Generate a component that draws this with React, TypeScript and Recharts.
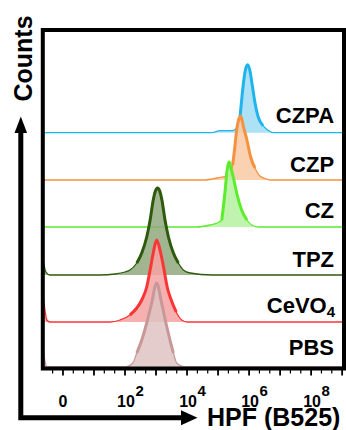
import React from 'react';
import { ComposedChart, Area, Line, XAxis, YAxis, ReferenceArea, ReferenceDot, Customized } from 'recharts';

const X_DOMAIN: [number, number] = [-0.65, 9.06];
const Y_DOMAIN: [number, number] = [0, 338.5];

const seriesNames = ['CZPA', 'CZP', 'CZ', 'TPZ', 'CeVO4', 'PBS'];
const baselineOffsets = [235.8, 188.5, 141.5, 93.5, 46.5, 1.5];
const labelLevels = [245.8, 196.8, 151, 101.8, 55.2, 13.5];
const strokeColors = ['#1fb5ec', '#f5913f', '#5cec2e', '#2d5a0c', '#fb3535', '#c89898'];
const fillColors = ['#9fdcf5', '#f9c9a3', '#b5f1a0', '#8fa87c', '#f6a2a2', '#dfc3c3'];

// [log-decade position, counts height]
const czpaCounts: [number, number][] = [
  [-0.65, 0], [4.81, 0], [5.06, 2], [5.48, 2], [5.6, 5], [5.71, 16], [5.82, 50], [5.89, 64],
  [5.96, 68], [6.02, 63], [6.09, 50], [6.19, 30], [6.29, 16], [6.45, 7], [6.61, 2.5], [6.77, 0], [9.06, 0],
];
const czpCounts: [number, number][] = [
  [-0.65, 0], [4.52, 0], [4.97, 2], [5.39, 5], [5.47, 15], [5.53, 30], [5.6, 50], [5.68, 62],
  [5.73, 64], [5.82, 53], [5.93, 40], [6.05, 23], [6.19, 12], [6.35, 4], [6.57, 1], [6.68, 0], [9.06, 0],
];
const czCounts: [number, number][] = [
  [-0.65, 0], [4.29, 0], [4.74, 2], [4.97, 4], [5.12, 7], [5.17, 20], [5.23, 37], [5.28, 54],
  [5.32, 62], [5.36, 65], [5.42, 58], [5.49, 50], [5.6, 34], [5.76, 17], [5.93, 7], [6.09, 2], [6.29, 0], [9.06, 0],
];
const tpzCounts: [number, number][] = [
  [-0.65, 17], [-0.55, 3], [-0.42, 0], [1.19, 0], [1.68, 1], [2.0, 3], [2.16, 5], [2.38, 12],
  [2.54, 22], [2.7, 38], [2.81, 55], [2.91, 75], [2.98, 84], [3.05, 87], [3.12, 84], [3.19, 75],
  [3.29, 55], [3.4, 38], [3.56, 22], [3.72, 12], [3.88, 5], [4.1, 2], [4.8, 0], [9.06, 0],
];
const cevo4Counts: [number, number][] = [
  [-0.65, 30], [-0.58, 12], [-0.52, 2], [-0.42, 0], [1.52, 0], [1.84, 2], [2.16, 7], [2.38, 14],
  [2.54, 22], [2.7, 35], [2.81, 52], [2.91, 69], [3.02, 82], [3.15, 69], [3.26, 52], [3.36, 35],
  [3.49, 22], [3.65, 10], [3.83, 2], [4.0, 0], [9.06, 0],
];
const pbsCounts: [number, number][] = [
  [-0.65, 20], [-0.58, 6], [-0.52, 0], [2.0, 0], [2.25, 4], [2.38, 14], [2.54, 27], [2.7, 44],
  [2.86, 64], [3.02, 84], [3.18, 64], [3.32, 44], [3.45, 27], [3.56, 14], [3.67, 4], [3.94, 0], [9.06, 0],
];
const seriesCounts = [czpaCounts, czpCounts, czCounts, tpzCounts, cevo4Counts, pbsCounts];

const majorTicks = [0, 1, 2, 3, 4, 5, 6, 7, 8, 9];
const labelledTicks = [0, 2, 4, 6, 8];
const minorTicks = [-1 / 3, ...majorTicks.flatMap((m) => [m + 1 / 3, m + 2 / 3])].filter((v) => v <= X_DOMAIN[1]);
const allTicks = [...majorTicks, ...minorTicks].sort((a, b) => a - b);

const FONT = '"Liberation Sans", Arial, Helvetica, sans-serif';

const Tick = (props: any) => {
  const { x, y, payload } = props;
  const v = payload.value as number;
  const isMajor = majorTicks.some((m) => Math.abs(m - v) < 1e-6);
  const label = labelledTicks.find((m) => Math.abs(m - v) < 1e-6);
  return (
    <g>
      <line x1={x} x2={x} y1={y + 1.5} y2={y + (isMajor ? 7 : 5)} stroke="#000" strokeWidth={isMajor ? 1.8 : 1.2} />
      {label !== undefined &&
        (label === 0 ? (
          <text x={x} y={y + 38.2} textAnchor="middle" fontFamily={FONT} fontWeight="bold" fontSize={16} fill="#000">
            0
          </text>
        ) : (
          <g>
            <text x={x + 1} y={y + 38.2} textAnchor="middle" fontFamily={FONT} fontWeight="bold" fontSize={16} fill="#000">
              10
            </text>
            <text x={x + 10.5} y={y + 27.5} textAnchor="start" fontFamily={FONT} fontWeight="bold" fontSize={15} fill="#000">
              {label}
            </text>
          </g>
        ))}
    </g>
  );
};

const Decorations = () => (
  <g>
    <path d="M20.8,130 L20.8,417.8 L182,417.8" fill="none" stroke="#000" strokeWidth={5} strokeLinejoin="miter" />
    <polygon points="20.8,116.5 14.5,133 27.1,133" fill="#000" />
    <polygon points="197.5,417.8 181,410.3 181,425.3" fill="#000" />
    <text
      x={31.5}
      y={58.5}
      transform="rotate(-90 31.5 58.5)"
      textAnchor="middle"
      fontFamily={FONT}
      fontWeight="bold"
      fontSize={25}
      fill="#000"
    >
      Counts
    </text>
    <text x={207} y={426} textAnchor="start" fontFamily={FONT} fontWeight="bold" fontSize={25} fill="#000">
      HPF (B525)
    </text>
  </g>
);

const makeLabel = (name: string) => (props: any) => {
  const vb = props.viewBox || {};
  const x = vb.x ?? 0;
  const y = vb.y ?? 0;
  if (name === 'CeVO4') {
    return (
      <text x={x + 1} y={y} textAnchor="end" fontFamily={FONT} fontWeight="bold" fontSize={22} fill="#000">
        CeVO<tspan fontSize={15} dy={4}>4</tspan>
      </text>
    );
  }
  return (
    <text x={x} y={y} textAnchor="end" fontFamily={FONT} fontWeight="bold" fontSize={22} fill="#000">
      {name}
    </text>
  );
};

export default function App() {
  const seriesData = seriesCounts.map((arr) => arr.map(([x, h]) => ({ x, h })));
  return (
    <div style={{ position: 'absolute', left: 0, top: 0, width: 346, height: 430, background: '#fff' }}>
      <ComposedChart width={346} height={430} margin={{ top: 30, right: 2, bottom: 31.5, left: 42.8 }}>
        <XAxis
          dataKey="x"
          type="number"
          domain={X_DOMAIN}
          allowDataOverflow
          ticks={allTicks}
          interval={0}
          tick={<Tick />}
          tickLine={false}
          axisLine={false}
          tickSize={0}
          tickMargin={0}
          height={30}
        />
        <YAxis hide type="number" domain={Y_DOMAIN} allowDataOverflow width={0} />
        {seriesNames.map((name, i) => {
          const off = baselineOffsets[i];
          const data = seriesData[i];
          const peak = data.filter((p) => p.x > 0.5 && p.h >= 6);
          return (
            <React.Fragment key={name}>
              <Area
                data={data}
                type="monotone"
                dataKey={(p: any) => off + p.h}
                baseValue={off}
                stroke={strokeColors[i]}
                strokeWidth={1.3}
                fill={fillColors[i]}
                fillOpacity={0.85}
                isAnimationActive={false}
                dot={false}
                activeDot={false}
                zIndex={100 + i * 2}
              />
              <Line
                data={peak}
                type="monotone"
                dataKey={(p: any) => off + p.h}
                stroke={strokeColors[i]}
                strokeWidth={3}
                dot={false}
                activeDot={false}
                isAnimationActive={false}
                zIndex={101 + i * 2}
              />
            </React.Fragment>
          );
        })}
        {seriesNames.map((name, i) => (
          <ReferenceDot
            key={'lbl' + name}
            x={8.74}
            y={labelLevels[i]}
            r={0}
            fill="none"
            stroke="none"
            ifOverflow="visible"
            label={{ content: makeLabel(name) }}
            zIndex={1900}
          />
        ))}
        <ReferenceArea
          x1={X_DOMAIN[0]}
          x2={X_DOMAIN[1]}
          y1={Y_DOMAIN[0]}
          y2={Y_DOMAIN[1]}
          fill="none"
          fillOpacity={0}
          stroke="#000"
          strokeWidth={4}
          ifOverflow="visible"
          zIndex={1500}
        />
        <Customized component={<Decorations />} />
      </ComposedChart>
    </div>
  );
}
